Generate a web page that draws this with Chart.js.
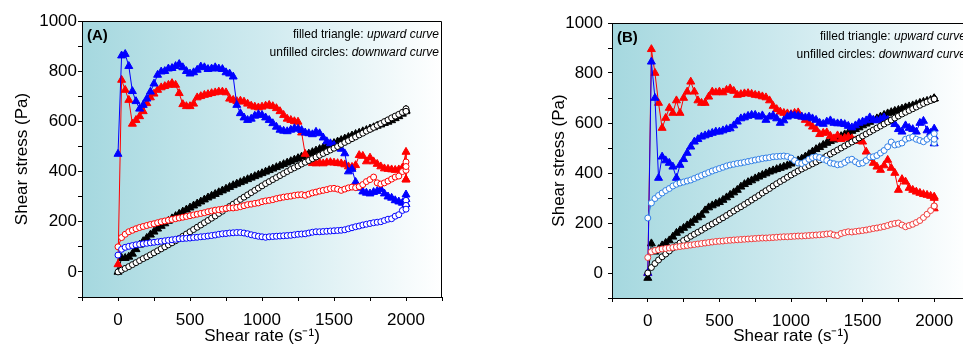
<!DOCTYPE html>
<html>
<head>
<meta charset="utf-8">
<script src="https://cdn.jsdelivr.net/npm/chart.js@4.4.1/dist/chart.umd.min.js"></script>
<style>
  html, body { margin: 0; padding: 0; overflow: hidden; background: #fff; }
  #wrap { position: relative; width: 963px; height: 347px; overflow: hidden; }
  canvas { position: absolute; top: 0; }
  #chartA { left: 0; }
  #chartB { left: 530px; }
</style>
</head>
<body>
<div id="wrap">
  <canvas id="chartA" width="480" height="347"></canvas>
  <canvas id="chartB" width="460" height="347"></canvas>
</div>
<script>
// shear rate grid (s-1), the last points are the hold at 2000
const SHEAR_RATE = [0,25,50,75,100,125,150,175,200,225,
  250,275,300,325,350,375,400,425,450,475,
  500,525,550,575,600,625,650,675,700,725,
  750,775,800,825,850,875,900,925,950,975,
  1000,1025,1050,1075,1100,1125,1150,1175,1200,1225,
  1250,1275,1300,1325,1350,1375,1400,1425,1450,1475,
  1500,1525,1550,1575,1600,1625,1650,1675,1700,1725,
  1750,1775,1800,1825,1850,1875,1900,1925,1950,1975,
  2000,2000,2000];

// panel A - upward curves (filled triangles)
const A_RED_UP = [30,765,725,685,590,605,620,640,672,695,
  710,725,735,740,745,752,745,712,668,660,
  660,670,695,700,705,708,712,715,718,718,
  715,690,685,680,682,678,670,662,658,655,
  658,662,665,660,652,640,625,610,605,600,
  598,555,470,440,433,432,435,432,436,437,
  435,433,432,428,420,418,425,465,462,440,
  455,440,430,420,412,410,408,406,408,415,
  478,368,368];
const A_BLUE_UP = [470,862,868,820,720,680,650,665,690,718,
  750,785,798,800,810,812,820,828,815,800,
  790,795,805,818,815,808,810,815,810,808,
  795,790,778,665,632,615,605,610,622,628,
  625,615,605,592,578,566,562,560,566,572,
  570,565,555,552,548,558,552,535,520,512,
  505,495,490,472,400,410,358,335,320,315,
  312,318,322,330,312,300,295,285,280,275,
  308,270,290];
const A_BLACK_UP = [0,55,55,60,72,90,108,122,135,148,
  160,172,183,193,203,213,222,231,240,248,
  256,264,272,280,288,296,303,310,317,324,
  331,338,345,351,357,363,369,375,381,387,
  393,399,405,411,417,423,429,435,441,447,
  453,459,465,471,477,483,489,495,501,507,
  513,519,525,531,537,543,549,554,560,565,
  571,576,582,587,593,598,604,612,620,630,
  640,645,645];
// panel A - downward curves (unfilled circles)
const A_RED_DOWN = [100,137,150,160,166,172,177,181,185,189,
  192,196,200,203,206,209,212,215,218,221,
  224,227,230,233,236,240,243,246,248,250,
  253,255,255,257,260,264,268,270,273,275,
  280,283,285,288,292,295,298,300,302,305,
  307,308,305,310,315,318,322,325,328,332,
  333,330,325,330,335,338,336,340,348,360,
  368,378,355,350,355,362,370,378,382,400,
  438,405,420];
const A_BLUE_DOWN = [67,90,98,102,105,108,110,112,114,116,
  118,120,122,124,126,128,130,132,133,134,
  135,137,138,140,141,143,145,147,150,152,
  153,155,156,157,157,155,152,148,145,142,
  140,138,140,141,142,143,144,145,146,148,
  150,151,152,155,158,160,160,161,162,163,
  164,165,166,168,172,176,180,183,187,190,
  193,196,198,200,205,210,212,222,228,245,
  285,265,250];
const A_BLACK_DOWN = [0,7,14,21,29,37,45,53,60,68,
  76,84,92,100,108,116,124,133,142,151,
  160,169,178,187,196,205,214,223,233,242,
  252,261,270,279,289,298,307,316,325,334,
  343,352,360,368,376,384,392,400,408,415,
  422,430,437,444,451,458,465,472,479,486,
  493,500,508,516,523,531,538,546,553,561,
  568,576,584,591,599,606,614,621,628,636,
  645,650,640];

// panel B - upward curves
const B_RED_UP = [0,895,800,680,580,620,660,640,690,640,
  700,725,765,725,690,680,680,705,725,722,
  725,722,732,738,728,712,715,718,719,716,
  712,710,706,702,690,668,655,645,640,638,
  635,640,642,625,612,598,585,575,555,560,
  562,548,538,550,535,540,545,538,530,528,
  525,485,460,440,425,412,430,452,420,400,
  332,375,365,340,332,325,320,315,312,308,
  305,258,300];
const B_BLUE_UP = [0,845,700,380,465,450,440,425,380,432,
  455,480,505,525,535,545,550,555,560,565,
  565,570,575,578,590,605,618,622,628,632,
  632,625,630,612,625,630,618,600,610,625,
  632,630,628,625,622,625,618,612,600,596,
  605,610,600,598,598,595,588,582,590,600,
  605,610,622,612,610,615,622,612,605,595,
  575,565,590,580,575,565,600,608,570,560,
  577,545,518];
const B_BLACK_UP = [-20,118,85,95,110,120,130,145,160,170,
  180,190,200,212,222,232,250,262,270,277,
  283,292,302,312,322,332,345,355,363,370,
  378,385,392,398,405,410,415,420,425,430,
  437,443,450,457,465,475,485,495,503,512,
  520,527,533,540,547,554,561,568,575,582,
  590,597,604,611,618,625,632,638,643,648,
  652,657,662,666,670,675,680,684,688,692,
  698,698,698];
// panel B - downward curves
const B_RED_DOWN = [62,85,90,93,96,98,100,102,104,106,
  108,110,112,114,116,118,120,122,124,126,
  127,128,130,131,132,133,134,135,136,137,
  138,139,140,140,141,142,143,144,145,145,
  146,147,148,148,149,150,151,152,153,154,
  156,157,152,150,158,162,165,164,166,168,
  170,172,175,178,180,183,186,190,195,198,
  200,192,185,190,195,202,210,222,235,250,
  268,268,268];
const B_BLUE_DOWN = [220,280,298,310,320,330,338,348,355,360,
  364,368,372,378,384,390,396,402,408,413,
  418,423,428,432,435,438,440,443,446,449,
  452,455,458,460,462,465,466,467,468,466,
  460,450,440,438,445,455,462,465,462,455,
  450,440,437,433,435,442,452,455,445,437,
  440,450,464,465,470,480,490,505,524,512,
  515,520,535,540,544,535,530,525,535,545,
  557,520,535];
const B_BLACK_DOWN = [0,22,38,52,65,76,88,100,110,120,
  130,138,147,155,163,171,180,188,196,204,
  213,221,230,239,248,257,265,274,283,292,
  301,310,320,329,338,348,357,366,374,383,
  392,400,408,416,423,430,437,444,452,460,
  468,476,484,492,500,508,516,524,532,540,
  548,556,564,572,580,588,596,604,612,620,
  628,636,643,650,657,664,671,678,684,690,
  696,696,696];

const X_TICK_LABELS = [0, 500, 1000, 1500, 2000];
const Y_TICK_LABELS = [0, 200, 400, 600, 800, 1000];

Chart.defaults.font.family = "'Liberation Sans', Arial, sans-serif";
Chart.defaults.color = '#000';

function pts(ys) {
    return SHEAR_RATE.map(function(x, i) { return { x: x, y: ys[i] }; });
}

function upSet(ys, color, order) {
    return {
        data: pts(ys), showLine: true, borderColor: color, borderWidth: 1,
        pointStyle: 'triangle', pointRadius: 4.6, pointBackgroundColor: color,
        pointBorderColor: color, pointBorderWidth: 1, order: order
    };
}

function downSet(ys, color, order) {
    return {
        data: pts(ys), showLine: true, borderColor: color, borderWidth: 1,
        pointStyle: 'circle', pointRadius: 3, pointBackgroundColor: '#fff',
        pointBorderColor: color, pointBorderWidth: 1, order: order
    };
}

// gradient background, frame, panel letter and note
const panelDecor = {
    id: 'panelDecor',
    beforeDraw(chart) {
        const a = chart.chartArea;
        const ctx = chart.ctx;
        const g = ctx.createLinearGradient(a.left, 0, a.right, 0);
        g.addColorStop(0, '#a5d8df');
        g.addColorStop(0.5, '#cfeaef');
        g.addColorStop(1, '#ffffff');
        ctx.save();
        ctx.fillStyle = g;
        ctx.fillRect(a.left, a.top, a.right - a.left, a.bottom - a.top);
        ctx.restore();
    },
    afterDraw(chart, args, opts) {
        const a = chart.chartArea;
        const ctx = chart.ctx;
        ctx.save();
        ctx.strokeStyle = '#000';
        ctx.lineWidth = 1;
        ctx.beginPath();
        ctx.moveTo(a.left, a.top + 0.5);
        ctx.lineTo(a.right - 0.5, a.top + 0.5);
        ctx.lineTo(a.right - 0.5, a.bottom);
        ctx.stroke();

        ctx.fillStyle = '#000';
        ctx.textBaseline = 'middle';
        ctx.textAlign = 'left';
        ctx.font = "bold 15px 'Liberation Sans', Arial, sans-serif";
        ctx.fillText(opts.label, a.left + 5, a.top + 14.5);

        const rx = a.right - opts.inset;
        const lines = [['filled triangle: ', 'upward curve', 14], ['unfilled circles: ', 'downward curve', 31.5]];
        ctx.textAlign = 'right';
        lines.forEach(function(l) {
            ctx.font = "italic 12px 'Liberation Sans', Arial, sans-serif";
            ctx.fillText(l[1], rx, a.top + l[2]);
            const w = ctx.measureText(l[1]).width;
            ctx.font = "12px 'Liberation Sans', Arial, sans-serif";
            ctx.fillText(l[0], rx - w, a.top + l[2]);
        });
        ctx.restore();
    }
};

function makeChart(id, sets, cfg) {
    const ctx = document.getElementById(id).getContext('2d');
    return new Chart(ctx, {
        type: 'scatter',
        data: { datasets: sets },
        options: {
            responsive: false,
            animation: false,
            layout: { padding: { top: cfg.top, right: cfg.right, left: 0, bottom: 0 } },
            plugins: {
                legend: { display: false },
                tooltip: { enabled: false },
                panelDecor: { label: cfg.label, inset: cfg.inset }
            },
            scales: {
                x: {
                    type: 'linear', min: -250, max: 2250,
                    afterFit: function(s) { s.height = cfg.xh; },
                    border: { display: true, color: '#000', width: 1 },
                    grid: { drawOnChartArea: false, tickLength: 4, color: '#000' },
                    ticks: {
                        stepSize: 250, autoSkip: false, maxRotation: 0, padding: 9,
                        font: { size: 17 },
                        callback: function(v) { return X_TICK_LABELS.includes(v) ? v : ''; }
                    },
                    title: { display: true, text: 'Shear rate (s\u207B\u00B9)', font: { size: 17 }, padding: { top: 0, bottom: 0 } }
                },
                y: {
                    type: 'linear', min: -100, max: 1000,
                    afterFit: function(s) { s.width = 82; },
                    border: { display: true, color: '#000', width: 1 },
                    grid: { drawOnChartArea: false, tickLength: 4, color: '#000' },
                    ticks: {
                        stepSize: 100, autoSkip: false, padding: cfg.ypad,
                        font: { size: 17 },
                        callback: function(v) { return Y_TICK_LABELS.includes(v) ? v : ''; }
                    },
                    title: { display: true, text: 'Shear stress (Pa)', font: { size: 17 }, padding: { top: cfg.tpad, bottom: 0 } }
                }
            }
        },
        plugins: [panelDecor]
    });
}

makeChart('chartA', [
    upSet(A_BLACK_UP, '#000', 6),
    upSet(A_RED_UP, '#ff0000', 5),
    upSet(A_BLUE_UP, '#0000ff', 4),
    downSet(A_BLACK_DOWN, '#000', 3),
    downSet(A_RED_DOWN, '#ff0000', 2),
    downSet(A_BLUE_DOWN, '#0000ff', 1)
], { top: 21, right: 38, xh: 50, ypad: 1, tpad: 12, label: '(A)', inset: 3 });

makeChart('chartB', [
    upSet(B_BLACK_UP, '#000', 6),
    upSet(B_RED_UP, '#ff0000', 5),
    upSet(B_BLUE_UP, '#0000ff', 4),
    downSet(B_BLACK_DOWN, '#000', 3),
    downSet(B_RED_DOWN, '#f03c3c', 2),
    downSet(B_BLUE_DOWN, '#2f7fe6', 1)
], { top: 23, right: 20, xh: 49, ypad: 5, tpad: 19, label: '(B)', inset: 4 });
</script>
</body>
</html>
